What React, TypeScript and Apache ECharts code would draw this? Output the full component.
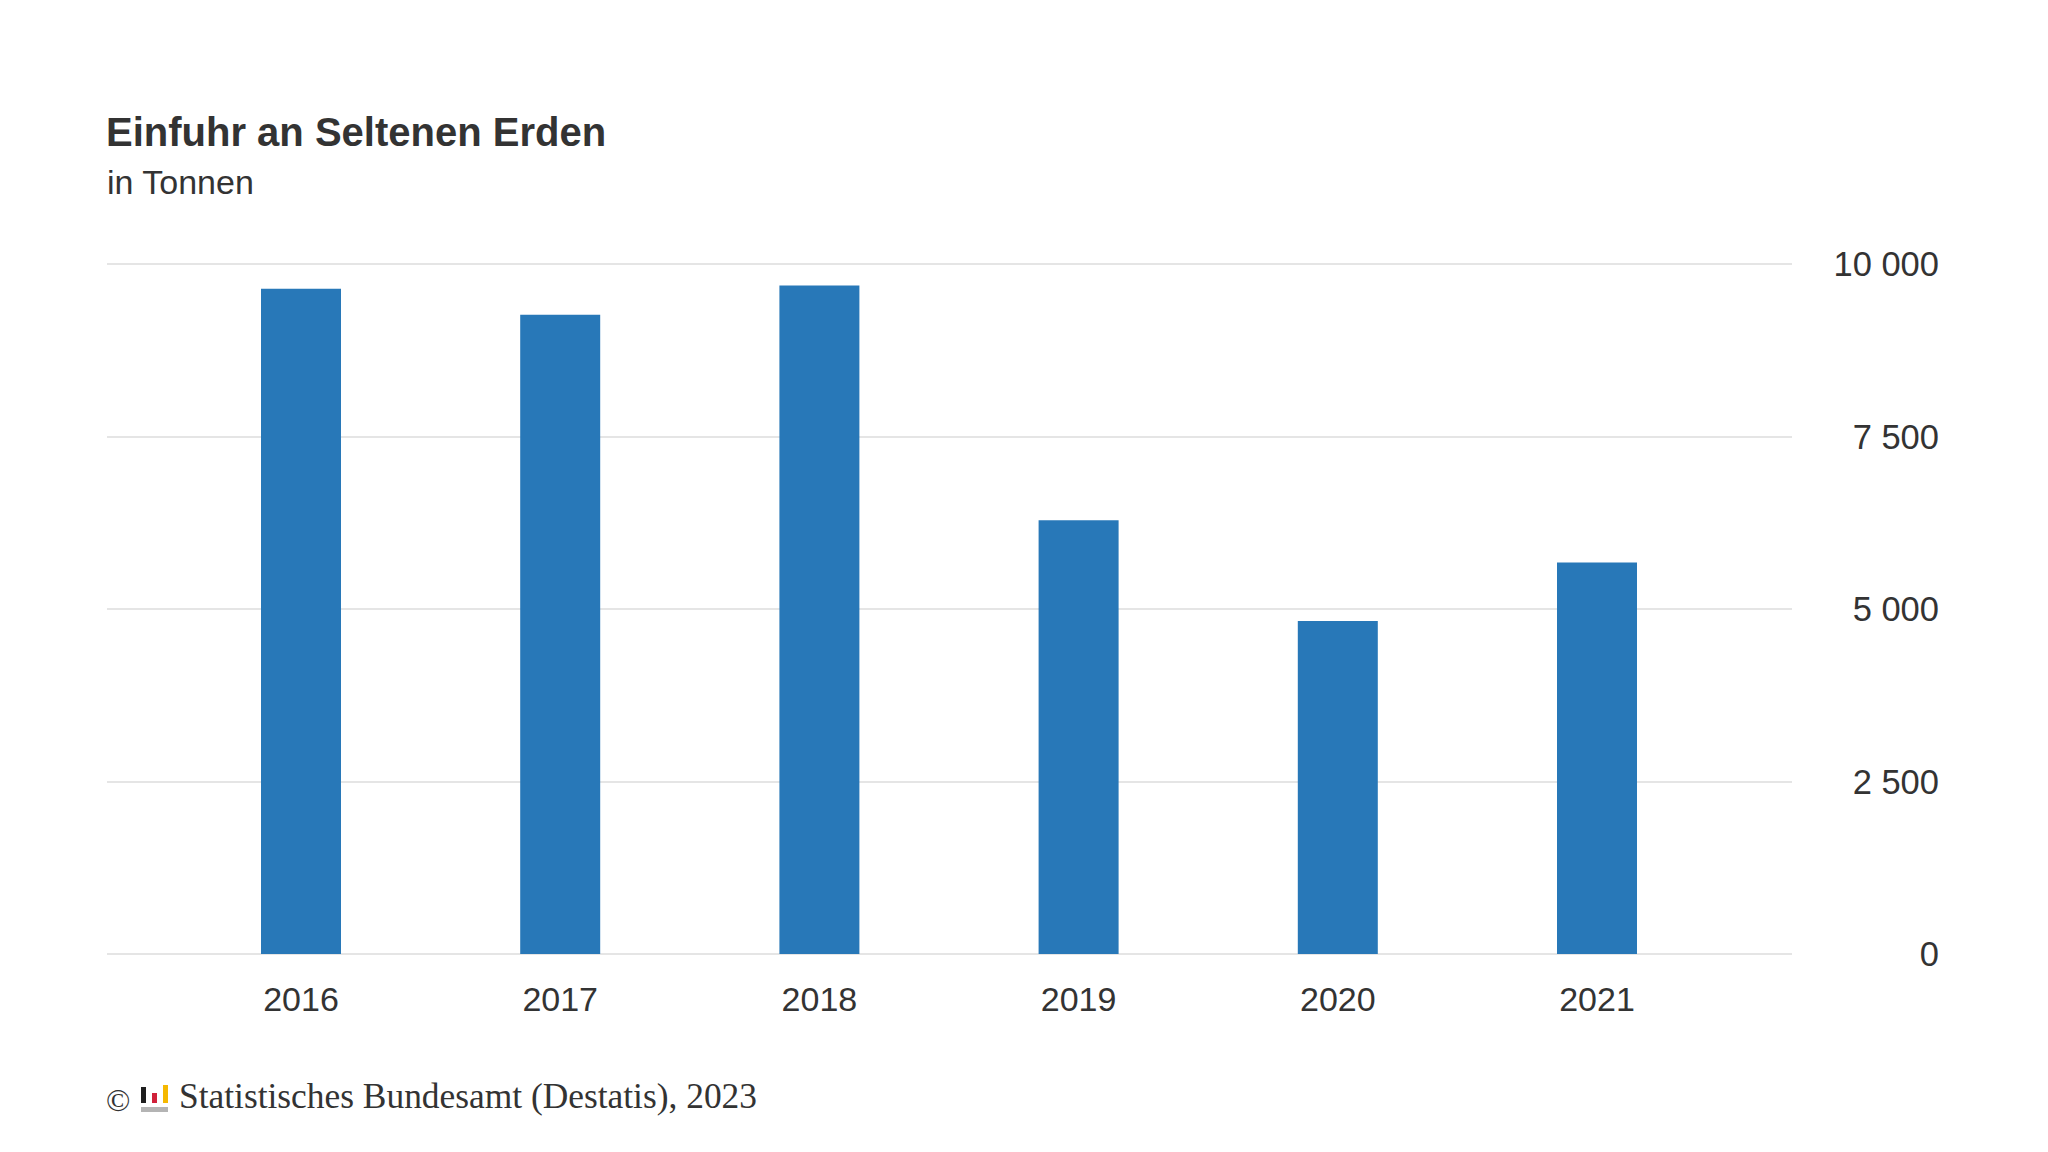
import React, { useEffect, useRef } from "react";
import * as echarts from "echarts";

const years = ["2016", "2017", "2018", "2019", "2020", "2021"];
const imports = [9640, 9265, 9690, 6285, 4825, 5675];
const yTicks = { min: 0, max: 10000, interval: 2500 };

const titleText = "Einfuhr an Seltenen Erden";
const subtitleText = "in Tonnen";
const sourceText = "Statistisches Bundesamt (Destatis), 2023";

const SANS = "'Liberation Sans', Arial, Helvetica, sans-serif";
const SERIF = "'Liberation Serif', 'Times New Roman', serif";
const TXT = "#333333";

function fmt(v: number): string {
  return String(v).replace(/\B(?=(\d{3})+(?!\d))/g, " ");
}

function txt(x: number, y: number, text: string, font: string): any {
  return {
    type: "text",
    x,
    y,
    style: { text, fill: TXT, font, verticalAlign: "middle", align: "left" },
  };
}

export default function App() {
  const ref = useRef<HTMLDivElement>(null);
  useEffect(() => {
    if (!ref.current) return;
    const chart = echarts.init(ref.current, undefined, { renderer: "svg" });
    const top = 264;
    const bottom = 1152 - 954;
    chart.setOption({
      animation: false,
      backgroundColor: "#ffffff",
      grid: [
        { left: 107, right: 2048 - 1792, top, bottom },
        { left: 171.4, width: 1555.2, top, bottom },
      ],
      xAxis: [
        { type: "value", gridIndex: 0, show: false, min: 0, max: 1 },
        {
          type: "category",
          gridIndex: 1,
          data: years,
          axisLine: { show: false },
          axisTick: { show: false },
          axisLabel: { color: TXT, fontSize: 34, fontFamily: SANS, margin: 28 },
        },
      ],
      yAxis: [
        {
          type: "value",
          gridIndex: 0,
          position: "right",
          min: yTicks.min,
          max: yTicks.max,
          interval: yTicks.interval,
          axisLine: { show: false },
          axisTick: { show: false },
          splitLine: { lineStyle: { color: "#dcdcdc", width: 1.5 } },
          axisLabel: {
            color: TXT,
            fontSize: 34.5,
            fontFamily: SANS,
            align: "right",
            margin: 147,
            formatter: (v: number) => fmt(v),
          },
        },
        {
          type: "value",
          gridIndex: 1,
          min: yTicks.min,
          max: yTicks.max,
          show: false,
          splitLine: { show: false },
        },
      ],
      series: [
        {
          type: "bar",
          xAxisIndex: 1,
          yAxisIndex: 1,
          data: imports,
          barWidth: 80,
          itemStyle: { color: "#2878b8" },
        },
      ],
      graphic: [
        txt(106, 132, titleText, `bold 40px ${SANS}`),
        txt(107, 182, subtitleText, `34px ${SANS}`),
        txt(106, 1100, "©", `32px ${SERIF}`),
        { type: "rect", shape: { x: 141, y: 1087, width: 5, height: 16 }, style: { fill: "#1e1e1e" } },
        { type: "rect", shape: { x: 152, y: 1093, width: 5, height: 10 }, style: { fill: "#d0213a" } },
        { type: "rect", shape: { x: 163, y: 1085, width: 5, height: 18 }, style: { fill: "#f5b800" } },
        { type: "rect", shape: { x: 141, y: 1107, width: 27, height: 5 }, style: { fill: "#b4b4b4" } },
        txt(179, 1096, sourceText, `35.4px ${SERIF}`),
      ],
    });
    return () => chart.dispose();
  }, []);
  return (
    <div
      ref={ref}
      style={{ position: "fixed", left: 0, top: 0, width: 2048, height: 1152 }}
    />
  );
}
